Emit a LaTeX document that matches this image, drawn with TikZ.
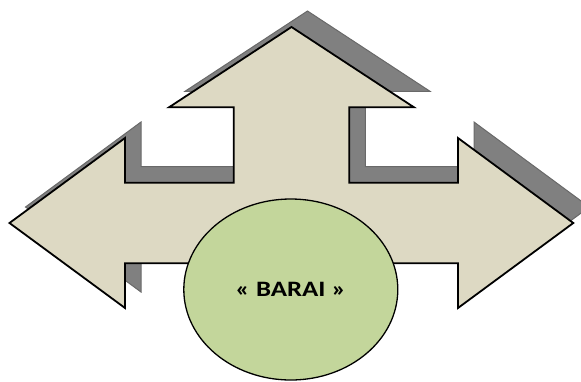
\documentclass[tikz,border=0pt]{standalone}
\usepackage{fontspec}
\setmainfont{Carlito}
\usetikzlibrary{shapes.geometric}
\definecolor{beige}{RGB}{221,217,195}
\definecolor{leaf}{RGB}{195,214,155}
\definecolor{shade}{RGB}{128,128,128}
\definecolor{shadeline}{RGB}{105,105,105}
\tikzset{
  arrowbody/.style={fill=beige, draw=black, line width=1.8pt, line join=miter},
  arrowshadow/.style={fill=shade, draw=shadeline, line width=1pt, line join=miter},
  hub/.style={ellipse, fill=leaf, draw=black, line width=1.3pt, inner sep=0pt,
    minimum width=214pt, minimum height=181pt, font=\bfseries\fontsize{22}{26}\selectfont}
}
\begin{document}
\begin{tikzpicture}[x=1pt,y=-1pt]
\useasboundingbox (0,0) rectangle (581,381);
\def\arrowpath{(291.5,27) -- (414,107.3) -- (349.3,107.3) -- (349.3,182.7) -- (458,182.7) -- (458,138) -- (573.3,223) -- (458,308) -- (458,263.3) -- (125,263.3) -- (125,308) -- (9.5,223) -- (125,138) -- (125,182.7) -- (233.7,182.7) -- (233.7,107.3) -- (169,107.3) -- cycle}
\begin{scope}[shift={(16,-16)}]
  \draw[arrowshadow] \arrowpath;
\end{scope}
\draw[arrowbody] \arrowpath;
\node[hub] (barai) at (290.8,289.5) {\scalebox{1.22}[1]{« BARAI »}};
\end{tikzpicture}
\end{document}
